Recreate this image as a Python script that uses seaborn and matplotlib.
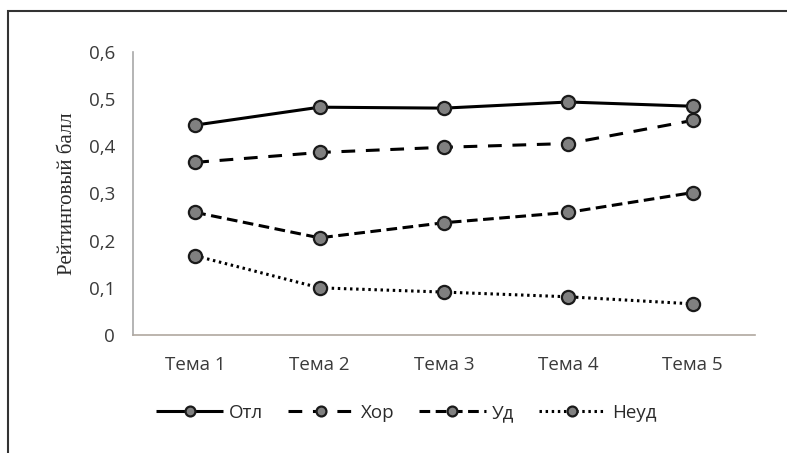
import matplotlib
matplotlib.use("Agg")
import matplotlib.pyplot as plt
import seaborn as sns
import pandas as pd
from matplotlib.patches import Rectangle

categories = ["Тема 1", "Тема 2", "Тема 3", "Тема 4", "Тема 5"]
otl = [0.445, 0.483, 0.481, 0.494, 0.485]
hor = [0.366, 0.387, 0.398, 0.406, 0.455]
ud = [0.260, 0.206, 0.238, 0.260, 0.302]
neud = [0.168, 0.100, 0.091, 0.081, 0.066]
series_names = ["Отл", "Хор", "Уд", "Неуд"]
yticks = [0, 0.1, 0.2, 0.3, 0.4, 0.5, 0.6]
ytick_labels = ["0", "0,1", "0,2", "0,3", "0,4", "0,5", "0,6"]

sns.set_theme(style="white")
plt.rcParams["font.family"] = ["Open Sans", "DejaVu Sans"]

W, H = 787, 453
fig = plt.figure(figsize=(W / 100, H / 100), dpi=100)
fig.patch.set_facecolor("white")
ax = fig.add_axes([133 / W, 1 - 335 / H, (755 - 133) / W, (335 - 52) / H])

values = {"Отл": otl, "Хор": hor, "Уд": ud, "Неуд": neud}
styles = {
    "Отл": (0, ()),
    "Хор": (0, (4.5, 3.5)),
    "Уд": (0, (3.5, 1.8)),
    "Неуд": (0, (0.8, 1.2)),
}
x_idx = list(range(len(categories)))
handles = []
for name in series_names:
    df = pd.DataFrame({"x": x_idx, "y": values[name]})
    sns.lineplot(data=df, x="x", y="y", ax=ax, color="black", linewidth=2.2,
                 marker="o", markersize=9.5, markerfacecolor="#808080",
                 markeredgecolor="#1a1a1a", markeredgewidth=1.6,
                 linestyle=styles[name], label=name, legend=False)
    handles.append(ax.lines[-1])

ax.set_xlim(-0.5, len(categories) - 0.5)
ax.set_ylim(0, 0.6)
ax.set_xticks(x_idx)
ax.set_xticklabels(categories)
ax.set_yticks(yticks)
ax.set_yticklabels(ytick_labels)
ax.tick_params(axis="both", length=0, labelsize=13.5, labelcolor="#3a3a3a")
ax.tick_params(axis="x", pad=15)
ax.tick_params(axis="y", pad=13)
ax.set_xlabel("")
ax.set_ylabel("Рейтинговый балл", family=["Liberation Serif", "DejaVu Serif"],
              fontsize=15, color="#2a2a2a", labelpad=8)
for s in ["top", "right"]:
    ax.spines[s].set_visible(False)
ax.spines["left"].set_color("#a8a8a8")
ax.spines["bottom"].set_color("#b0a8a0")
ax.spines["left"].set_linewidth(1.2)
ax.spines["bottom"].set_linewidth(1.2)

leg = fig.legend(handles, series_names, loc="center", ncol=4,
                 bbox_to_anchor=(406 / W, 1 - 413 / H), frameon=False,
                 fontsize=13.5, handlelength=3.6, handletextpad=0.3,
                 columnspacing=1.3, labelcolor="#2a2a2a", markerscale=0.75)

fig.patches.append(Rectangle((8 / W, -0.2), 1.2, 1.2 - 11 / H,
                             transform=fig.transFigure, fill=False,
                             edgecolor="#333333", linewidth=1.5))

fig.savefig("out.png", dpi=100)
